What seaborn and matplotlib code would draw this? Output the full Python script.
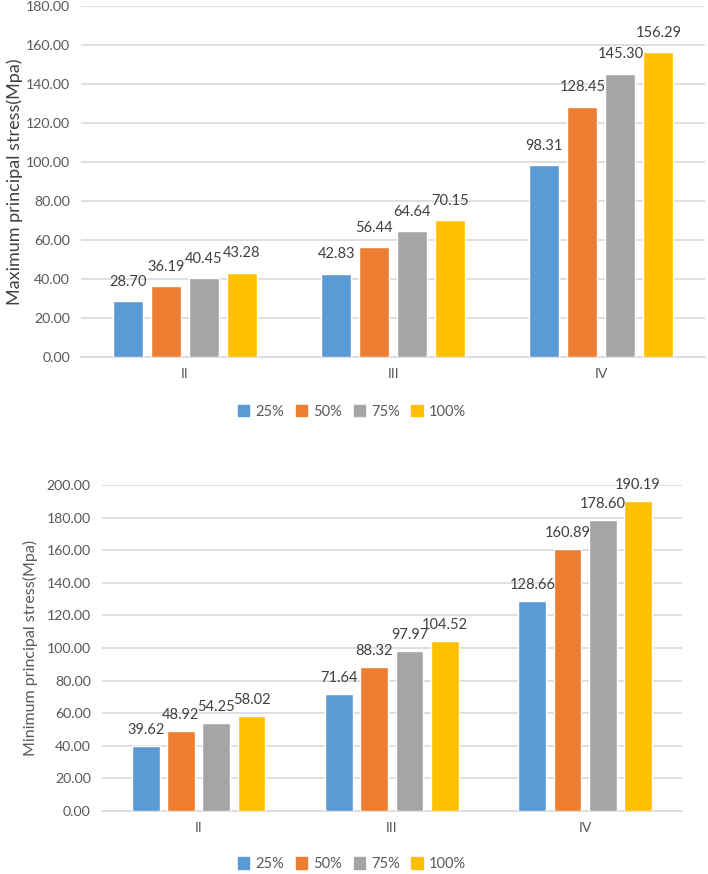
# grouped bar charts of max / min principal stress per grade
import pandas as pd
import seaborn as sns
import matplotlib.pyplot as plt

# data
grades = ['II', 'III', 'IV']
levels = ['25%', '50%', '75%', '100%']
max_25 = [28.70, 42.83, 98.31]
max_50 = [36.19, 56.44, 128.45]
max_75 = [40.45, 64.64, 145.30]
max_100 = [43.28, 70.15, 156.29]
min_25 = [39.62, 71.64, 128.66]
min_50 = [48.92, 88.32, 160.89]
min_75 = [54.25, 97.97, 178.60]
min_100 = [58.02, 104.52, 190.19]

colors = ['#5B9BD5', '#ED7D31', '#A5A5A5', '#FFC000']
grid_c = '#D9D9D9'
text_c = '#595959'


def to_long(series_list):
    rows = []
    for lev, vals in zip(levels, series_list):
        for g, v in zip(grades, vals):
            rows.append({'grade': g, 'level': lev, 'value': v})
    return pd.DataFrame(rows)


def draw(ax, df, ymax, ylabel, label_size, label_color, label_off, boundary_ticks, lpad):
    sns.barplot(data=df, x='grade', y='value', hue='level', order=grades,
                hue_order=levels, palette=colors, width=0.73, gap=0.21,
                saturation=1, errorbar=None, ax=ax, zorder=3)
    for cont in ax.containers:
        for bar in cont:
            h = bar.get_height()
            ax.annotate(f'{h:.2f}', (bar.get_x() + bar.get_width() / 2, h),
                        xytext=(0, label_off), textcoords='offset points',
                        ha='center', va='center', fontsize=10.5, color='#404040')
    ax.set_ylim(0, ymax)
    ax.set_xlim(-0.5, 2.5)
    ax.set_yticks(range(0, ymax + 1, 20))
    ax.set_yticklabels([f'{t:.2f}' for t in range(0, ymax + 1, 20)])
    ax.yaxis.grid(True, color=grid_c, linewidth=1.2, zorder=0)
    ax.xaxis.grid(False)
    for s in ['top', 'right', 'left']:
        ax.spines[s].set_visible(False)
    ax.spines['bottom'].set_color(grid_c)
    ax.spines['bottom'].set_linewidth(1.2)
    ax.tick_params(axis='both', length=0, labelsize=10.2, labelcolor=text_c, pad=8)
    if boundary_ticks:
        ax.set_xticks([-0.5, 0.5, 1.5, 2.5], minor=True)
        ax.tick_params(axis='x', which='minor', length=5, color=grid_c, width=1.2)
    ax.set_xlabel('')
    ax.set_ylabel(ylabel, fontsize=label_size, color=label_color, labelpad=lpad)
    ax.get_legend().remove()


sns.set_style('white')
plt.rcParams['font.family'] = ['Lato', 'DejaVu Sans']

fig = plt.figure(figsize=(7.08, 8.74), dpi=100)
ax1 = fig.add_axes([0.1144, 0.5915, 0.882, 0.4016])
ax2 = fig.add_axes([0.144, 0.0721, 0.819, 0.3729])

draw(ax1, to_long([max_25, max_50, max_75, max_100]), 180,
     'Maximum principal stress(Mpa)', 13, '#404040', 14, False, 2)
draw(ax2, to_long([min_25, min_50, min_75, min_100]), 200,
     'Minimum principal stress(Mpa)', 11.5, text_c, 11.5, True, 6)

handles = [plt.Rectangle((0, 0), 1, 1, color=c) for c in colors]
for ypos in [0.529, 0.0114]:
    fig.legend(handles, levels, loc='center', bbox_to_anchor=(0.497, ypos),
               ncol=4, frameon=False, fontsize=10.5, labelcolor=text_c,
               handlelength=0.8, handleheight=0.8, handletextpad=0.4,
               columnspacing=0.8)

fig.savefig('out.png', dpi=100)
